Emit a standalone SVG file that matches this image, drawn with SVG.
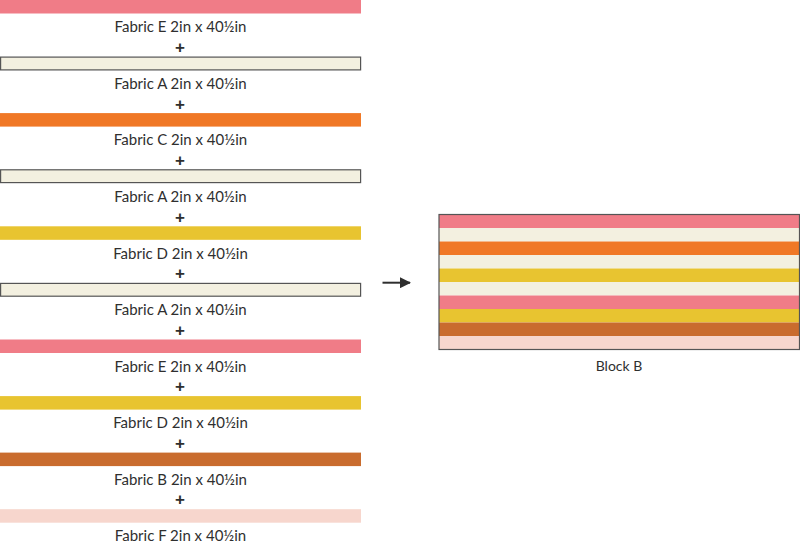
<svg xmlns="http://www.w3.org/2000/svg" width="800" height="549" viewBox="0 0 800 549">
<defs>
<style>
.lbl{font-family:Lato,"Noto Sans","Liberation Sans",sans-serif;font-size:15px;fill:#2f2f2f;text-anchor:middle}
.blk{font-family:Lato,"Noto Sans","Liberation Sans",sans-serif;font-size:14px;fill:#2f2f2f;text-anchor:middle}
.plus{font-family:"Liberation Sans",sans-serif;font-size:17px;font-weight:bold;fill:#2f2f2f;text-anchor:middle}
.E{fill:#F07C87}.A{fill:#F3F0E0}.C{fill:#F07826}.D{fill:#E8C430}.B{fill:#C96C2E}.F{fill:#F7D6CD}
.out{stroke:#555;stroke-width:1.2}
</style>
<marker id="ah" markerWidth="11" markerHeight="11" refX="10" refY="5.5" orient="auto" markerUnits="userSpaceOnUse">
<path d="M0,0 L11,5.5 L0,11 Z" fill="#2f2f2f"/>
</marker>
</defs>
<rect width="800" height="549" fill="#ffffff"/>
<g id="strip1"><rect class="E" x="0" y="0" width="361" height="13.5"/><text class="lbl" x="180.5" y="32.3">Fabric E 2in x 40½in</text><text class="plus" x="180" y="53">+</text></g>
<g id="strip2"><rect class="A out" x="0.6" y="57.1" width="360" height="12.8"/><text class="lbl" x="180.5" y="88.8">Fabric A 2in x 40½in</text><text class="plus" x="180" y="109.5">+</text></g>
<g id="strip3"><rect class="C" x="0" y="113.1" width="361" height="13.5"/><text class="lbl" x="180.5" y="145.4">Fabric C 2in x 40½in</text><text class="plus" x="180" y="166">+</text></g>
<g id="strip4"><rect class="A out" x="0.6" y="169.8" width="360" height="12.8"/><text class="lbl" x="180.5" y="201.9">Fabric A 2in x 40½in</text><text class="plus" x="180" y="222.6">+</text></g>
<g id="strip5"><rect class="D" x="0" y="226.3" width="361" height="13.5"/><text class="lbl" x="180.5" y="258.5">Fabric D 2in x 40½in</text><text class="plus" x="180" y="279.2">+</text></g>
<g id="strip6"><rect class="A out" x="0.6" y="283.4" width="360" height="12.8"/><text class="lbl" x="180.5" y="315">Fabric A 2in x 40½in</text><text class="plus" x="180" y="335.7">+</text></g>
<g id="strip7"><rect class="E" x="0" y="339.5" width="361" height="13.5"/><text class="lbl" x="180.5" y="371.6">Fabric E 2in x 40½in</text><text class="plus" x="180" y="392.3">+</text></g>
<g id="strip8"><rect class="D" x="0" y="396.1" width="361" height="13.5"/><text class="lbl" x="180.5" y="428.1">Fabric D 2in x 40½in</text><text class="plus" x="180" y="448.8">+</text></g>
<g id="strip9"><rect class="B" x="0" y="452.6" width="361" height="13.5"/><text class="lbl" x="180.5" y="484.7">Fabric B 2in x 40½in</text><text class="plus" x="180" y="505.4">+</text></g>
<g id="strip10"><rect class="F" x="0" y="509.2" width="361" height="13.5"/><text class="lbl" x="180.5" y="541.2">Fabric F 2in x 40½in</text></g>
<g id="connectors"><line x1="382.5" y1="282.7" x2="410" y2="282.7" stroke="#2f2f2f" stroke-width="2" marker-end="url(#ah)"/></g>
<g id="blockB">
<rect class="E" x="439" y="214.5" width="360.5" height="13.5"/>
<rect class="A" x="439" y="228" width="360.5" height="13.5"/>
<rect class="C" x="439" y="241.5" width="360.5" height="13.5"/>
<rect class="A" x="439" y="255" width="360.5" height="13.5"/>
<rect class="D" x="439" y="268.5" width="360.5" height="13.5"/>
<rect class="A" x="439" y="282" width="360.5" height="13.5"/>
<rect class="E" x="439" y="295.5" width="360.5" height="13.5"/>
<rect class="D" x="439" y="309" width="360.5" height="13.5"/>
<rect class="B" x="439" y="322.5" width="360.5" height="13.5"/>
<rect class="F" x="439" y="336" width="360.5" height="13.5"/>
<rect x="439" y="214.5" width="360.5" height="135" fill="none" stroke="#555" stroke-width="1.2"/>
<text class="blk" x="619" y="370.7">Block B</text>
</g>
</svg>
